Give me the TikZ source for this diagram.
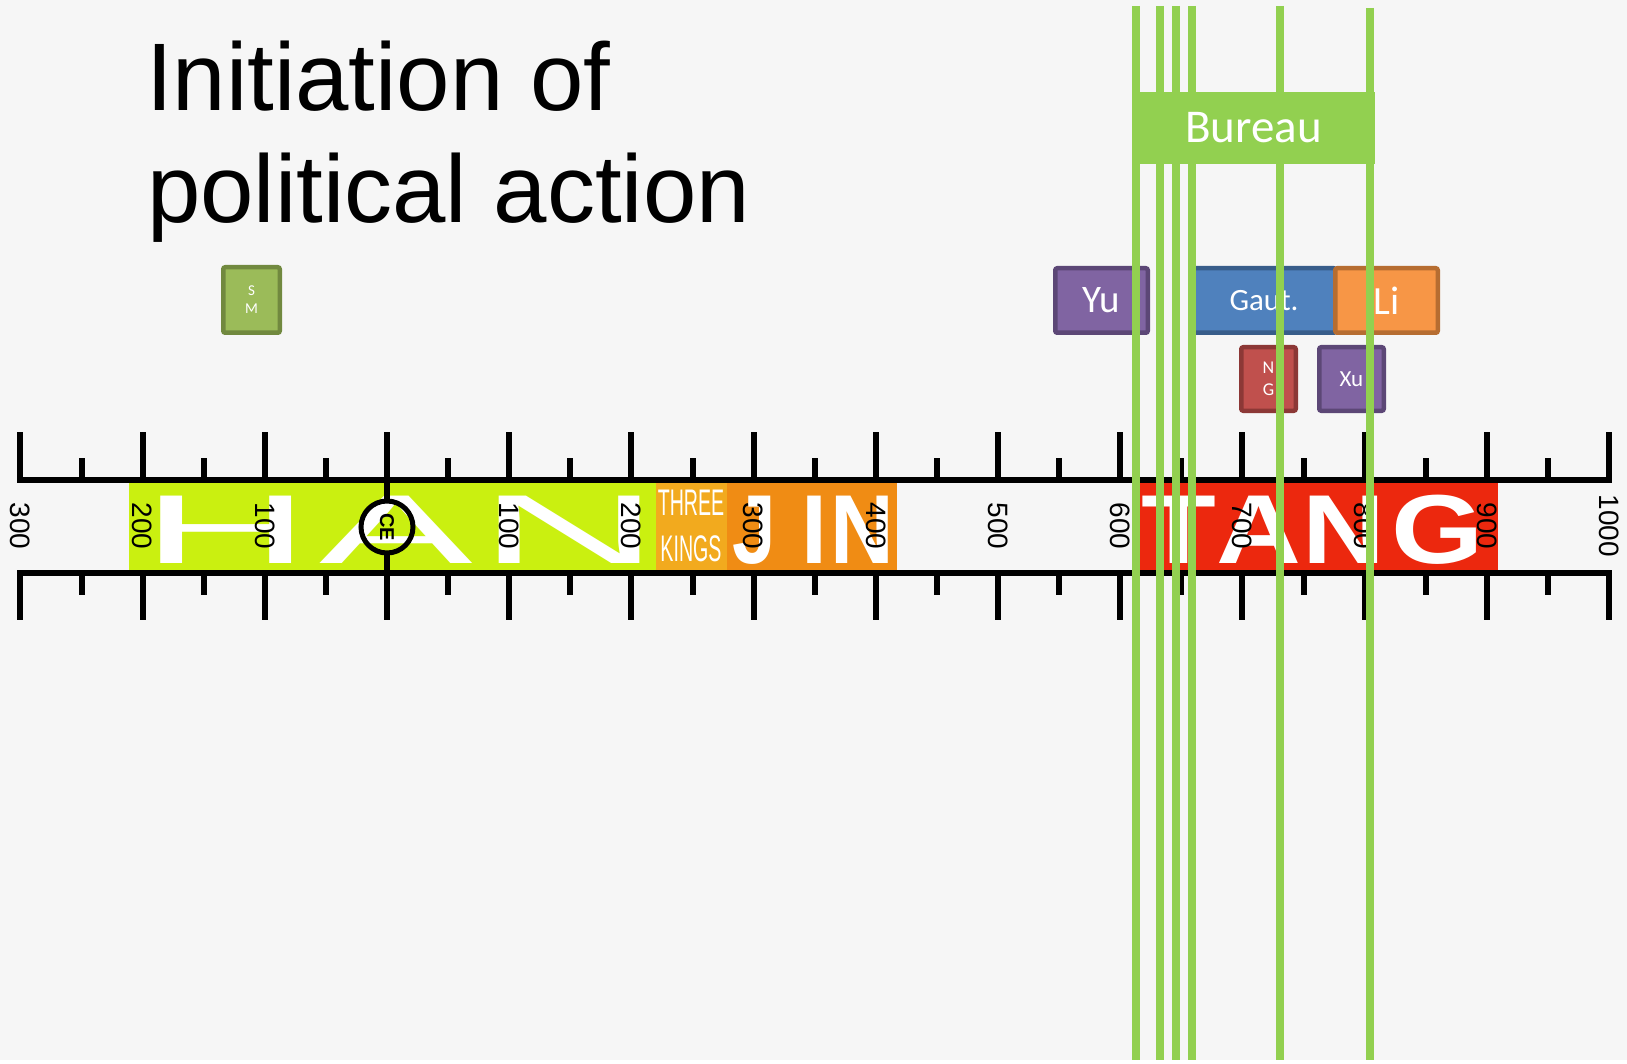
\documentclass[tikz,border=0pt]{standalone}
\usepackage{fontspec}
\newfontfamily\arialf{Liberation Sans}
\newfontfamily\calib{Carlito}
\definecolor{bg}{RGB}{246,246,246}
\definecolor{hanc}{RGB}{202,240,16}
\definecolor{tkc}{RGB}{242,170,30}
\definecolor{jinc}{RGB}{240,140,20}
\definecolor{tangc}{RGB}{236,40,14}
\definecolor{grn}{RGB}{146,208,80}
\definecolor{purf}{RGB}{128,100,162}
\definecolor{purd}{RGB}{92,71,118}
\definecolor{bluf}{RGB}{79,129,189}
\definecolor{blud}{RGB}{56,93,138}
\definecolor{orf}{RGB}{247,150,70}
\definecolor{ord}{RGB}{182,109,49}
\definecolor{redf}{RGB}{192,80,77}
\definecolor{redd}{RGB}{140,56,54}
\definecolor{olf}{RGB}{155,187,89}
\definecolor{old}{RGB}{113,137,63}
\begin{document}
\begin{tikzpicture}[x=1pt,y=-1pt,
  bigletter/.style={text=white, font=\arialf\fontsize{98}{98}\selectfont, inner sep=0, anchor=base},
  bigbold/.style={text=white, font=\arialf\bfseries\fontsize{98}{98}\selectfont, inner sep=0, anchor=base},
  smallcap/.style={text=white, font=\arialf\fontsize{37}{46}\selectfont, inner sep=0, align=center, xscale=0.53},
  yearlab/.style={font=\arialf\fontsize{28}{28}\selectfont, rotate=-90, inner sep=0},
  tickline/.style={line width=6pt, black},
  person/.style={draw, line width=4.5pt, rounded corners=2pt, inner sep=0, outer sep=0, text=white, align=center},
  bureauline/.style={line width=8pt, grn}
]
% background
\fill[bg] (0,0) rectangle (1627,1060);

% dynasty bands
\fill[hanc] (129,480) rectangle (656,573);
\fill[tkc] (656,480) rectangle (727,573);
\fill[jinc] (727,480) rectangle (897,573);
\fill[tangc] (1138,480) rectangle (1498,573);

% big letters
\node[bigletter, xscale=2.39] (hH) at (226.5,563) {H};
\node[bigletter, xscale=2.35] (hA) at (396.5,563) {A};
\node[bigletter, xscale=2.57] (hN) at (569,563) {N};
\node[smallcap] (tk) at (691,526) {THREE\\KINGS};
\node[bigbold, xscale=0.8] (jJ) at (754,563) {J};
\node[bigbold, xscale=0.95] (jI) at (814,563) {I};
\node[bigbold, xscale=0.9] (jN) at (862.5,563) {N};
\node[bigbold, xscale=1.25] (tT) at (1179,563) {T};
\node[bigbold, xscale=1.2] (tA) at (1259,563) {A};
\node[bigbold, xscale=1.17] (tN) at (1344,563) {N};
\node[bigbold, xscale=1.21] (tG) at (1437.5,563) {G};

% timeline lines
\coordinate (tlL) at (17.4,480);
\coordinate (tlR) at (1612,480);
\coordinate (blL) at (17.4,573);
\coordinate (blR) at (1612,573);
\draw[tickline] (tlL) -- (tlR);
\draw[tickline] (blL) -- (blR);

% ticks
\foreach \yr in {-300,-250,...,1000} {
  \pgfmathsetmacro\xx{387+1.222*\yr}
  \pgfmathtruncatemacro\ismaj{mod(abs(\yr),100)==0 ? 1 : 0}
  \ifnum\ismaj=1
    \draw[tickline] (\xx,432) -- (\xx,480);
    \draw[tickline] (\xx,573) -- (\xx,620);
  \else
    \draw[tickline] (\xx,458) -- (\xx,480);
    \draw[tickline] (\xx,573) -- (\xx,595);
  \fi
}

% year labels
\foreach \yr/\lab [count=\i] in {-300/300,-200/200,-100/100,100/100,200/200,300/300,400/400,500/500,600/600,700/700,800/800,900/900,1000/1000} {
  \pgfmathsetmacro\xx{387+1.222*\yr}
  \node[yearlab] (yl\i) at (\xx,526) {\lab};
}

% CE marker
\node[circle, draw, line width=5pt, minimum size=52pt, inner sep=0, outer sep=0] (ce) at (387,527) {};
\node[font=\arialf\bfseries\fontsize{20}{20}\selectfont, rotate=-90, inner sep=0] (cetxt) at (387,527) {CE};
\coordinate (cetop) at (387,480);
\coordinate (cebot) at (387,573);
\draw[tickline] (cetop) -- (ce.north);
\draw[tickline] (ce.south) -- (cebot);

% person boxes
\node[person, fill=olf, draw=old, minimum width=56.5pt, minimum height=65.5pt, font=\calib\fontsize{15}{18}\selectfont] (sm) at (251.5,300) {S\\M};
\node[person, fill=purf, draw=purd, minimum width=92.5pt, minimum height=64.5pt, font=\calib\fontsize{39}{39}\selectfont] (yu) at (1101.5,300.5) {Yu};
\node[person, fill=bluf, draw=blud, minimum width=143.5pt, minimum height=64.5pt, font=\calib\fontsize{31}{31}\selectfont] (gaut) at (1264,300.5) {Gaut.};
\node[person, fill=orf, draw=ord, minimum width=102.5pt, minimum height=64.5pt, font=\calib\fontsize{40}{40}\selectfont] (li) at (1386.5,300.5) {Li};
\node[person, fill=redf, draw=redd, minimum width=54.5pt, minimum height=63.5pt, font=\calib\fontsize{18}{22}\selectfont] (ng) at (1268.5,379) {N\\G};
\node[person, fill=purf, draw=purd, minimum width=64.5pt, minimum height=63.5pt, font=\calib\fontsize{23}{23}\selectfont] (xu) at (1351.5,379) {Xu};

% bureau lines
\foreach \gx/\gy [count=\j] in {1136/6,1160/6,1176/6,1192/6,1280/6,1370/8} {
  \coordinate (g\j t) at (\gx,\gy);
  \coordinate (g\j b) at (\gx,1060);
  \draw[bureauline] (g\j t) -- (g\j b);
}
\node[fill=grn, minimum width=243pt, minimum height=72pt, inner sep=0, text=white, font=\calib\fontsize{47}{47}\selectfont] (bureau) at (1253.5,128) {Bureau};

% title
\node[anchor=base west, inner sep=0, font=\arialf\fontsize{96}{112}\selectfont] (title1) at (146,111) {Initiation of};
\node[anchor=base west, inner sep=0, font=\arialf\fontsize{96}{112}\selectfont] (title2) at (147,223) {political action};
\end{tikzpicture}
\end{document}
